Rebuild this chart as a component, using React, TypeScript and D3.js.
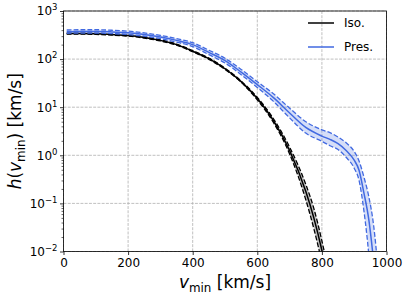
import React, { useEffect, useRef } from "react";
import * as d3 from "d3";

// v_min grid [km/s] and h(v_min) [km/s]
const isoV = [10, 50, 100, 150, 200, 250, 300, 350, 400, 450, 500, 550, 600, 650, 700, 750, 775, 800, 825];
const isoMid = [339, 339, 335, 324, 309, 282, 245, 200, 146, 102, 63, 34, 15.1, 5.25, 1.26, 0.178, 0.05, 0.0105, 0.0016];
const isoHigh = [348, 348, 344, 333, 318, 290, 252, 206, 150, 105, 65, 35, 16, 5.75, 1.48, 0.25, 0.079, 0.0166, 0.0027];
const isoLow = [330, 330, 326, 315, 300, 274, 238, 194, 142, 99, 61, 33, 14.2, 4.8, 1.07, 0.12, 0.03, 0.0059, 0.0009];

const presV = [10, 50, 100, 150, 200, 250, 300, 350, 400, 450, 500, 550, 600, 650, 700, 750, 800, 825, 850, 875, 900, 915, 930, 945, 960, 975];
const presMid = [372, 376, 376, 367, 351, 324, 288, 245, 200, 138, 93, 53.7, 29.5, 15.8, 7.6, 3.8, 2.51, 2.14, 1.74, 1.26, 0.79, 0.49, 0.166, 0.047, 0.0063, 0.0005];
const presHigh = [403, 408, 408, 398, 381, 351, 312, 267, 219, 153, 104, 61, 33.9, 19, 9.55, 5, 3.39, 2.95, 2.4, 1.82, 1.2, 0.76, 0.355, 0.141, 0.0355, 0.0035];
const presLow = [343, 347, 347, 339, 324, 299, 266, 225, 182, 124, 83, 47.4, 25.7, 13.2, 6, 2.9, 1.95, 1.58, 1.32, 0.91, 0.54, 0.3, 0.071, 0.0089, 0.0005, 0.0001];

const xTicks = [0, 200, 400, 600, 800, 1000];
const yTicks = [1e-2, 1e-1, 1e0, 1e1, 1e2, 1e3];
const yTickExps = ["\u22122", "\u22121", "0", "1", "2", "3"];
const legendLabels = ["Iso.", "Pres."];

const W = 409;
const H = 298;
const FONT = "DejaVu Sans, sans-serif";
const BLUE = "#4169e1";

function App() {
  const ref = useRef(null);

  useEffect(() => {
    const margin = { top: 11, right: 22.5, bottom: 46.5, left: 63.5 };
    const width = W - margin.left - margin.right;
    const height = H - margin.top - margin.bottom;

    const svg = d3.select(ref.current);
    svg.selectAll("*").remove();

    const x = d3.scaleLinear().domain([0, 1000]).range([0, width]);
    const y = d3.scaleLog().domain([1e-2, 1e3]).range([height, 0]);

    svg
      .append("defs")
      .append("clipPath")
      .attr("id", "plotclip")
      .append("rect")
      .attr("width", width)
      .attr("height", height);

    const g = svg.append("g").attr("transform", `translate(${margin.left},${margin.top})`);

    // grid
    const grid = g.append("g").attr("stroke", "#b0b0b0").attr("stroke-width", 0.8).attr("stroke-dasharray", "2.96,1.28");
    grid
      .selectAll(".gx")
      .data(xTicks)
      .join("line")
      .attr("x1", (d) => x(d))
      .attr("x2", (d) => x(d))
      .attr("y1", 0)
      .attr("y2", height);
    grid
      .selectAll(".gy")
      .data(yTicks)
      .join("line")
      .attr("x1", 0)
      .attr("x2", width)
      .attr("y1", (d) => y(d))
      .attr("y2", (d) => y(d));

    const plot = g.append("g").attr("clip-path", "url(#plotclip)");

    const series = [
      { v: isoV, mid: isoMid, lo: isoLow, hi: isoHigh, color: "#000000", fill: "#808080", op: 0.5 },
      { v: presV, mid: presMid, lo: presLow, hi: presHigh, color: BLUE, fill: BLUE, op: 0.22 },
    ];

    series.forEach((s) => {
      const idx = d3.range(s.v.length);
      const area = d3
        .area()
        .x((i) => x(s.v[i]))
        .y0((i) => y(s.lo[i]))
        .y1((i) => y(s.hi[i]))
        .curve(d3.curveMonotoneX);
      plot.append("path").attr("d", area(idx)).attr("fill", s.fill).attr("fill-opacity", s.op);

      const line = (arr) =>
        d3
          .line()
          .x((i) => x(s.v[i]))
          .y((i) => y(arr[i]))
          .curve(d3.curveMonotoneX)(idx);

      [s.lo, s.hi].forEach((arr) => {
        plot
          .append("path")
          .attr("d", line(arr))
          .attr("fill", "none")
          .attr("stroke", s.color)
          .attr("stroke-width", 1.3)
          .attr("stroke-dasharray", "4.8,2.1");
      });
      plot
        .append("path")
        .attr("d", line(s.mid))
        .attr("fill", "none")
        .attr("stroke", s.color)
        .attr("stroke-width", 1.5);
    });

    // axes
    const xAxis = g
      .append("g")
      .attr("transform", `translate(0,${height})`)
      .call(d3.axisBottom(x).tickValues(xTicks).tickFormat(d3.format("d")).tickSize(3.5).tickPadding(3.5));
    xAxis.select(".domain").remove();
    xAxis.selectAll("text").attr("font-family", FONT).attr("font-size", 12).attr("fill", "#000");
    xAxis.selectAll("line").attr("stroke-width", 0.8);

    const minorTicks = [];
    for (let e = -2; e < 3; e++) for (let m = 2; m < 10; m++) minorTicks.push(m * Math.pow(10, e));
    const yMinor = g.append("g").call(d3.axisLeft(y).tickValues(minorTicks).tickFormat(() => "").tickSize(2));
    yMinor.select(".domain").remove();
    yMinor.selectAll("line").attr("stroke-width", 0.6);

    const yAxis = g.append("g").call(d3.axisLeft(y).tickValues(yTicks).tickFormat(() => "").tickSize(3.5));
    yAxis.select(".domain").remove();
    yAxis.selectAll("line").attr("stroke-width", 0.8);
    yAxis
      .selectAll(".tick")
      .append("text")
      .attr("x", -6)
      .attr("dy", "0.32em")
      .attr("text-anchor", "end")
      .attr("font-family", FONT)
      .attr("font-size", 12)
      .attr("fill", "#000")
      .each(function (_, i) {
        const t = d3.select(this);
        t.append("tspan").text("10");
        t.append("tspan").attr("dy", -5).attr("font-size", 8.5).text(yTickExps[i]);
      });

    g.append("rect")
      .attr("width", width)
      .attr("height", height)
      .attr("fill", "none")
      .attr("stroke", "#000")
      .attr("stroke-width", 0.8);

    // axis labels with math parts
    const addParts = (text, size, parts) => {
      parts.forEach((p) => {
        const ts = text.append("tspan").text(p.t);
        if (p.it) ts.attr("font-style", "italic");
        if (p.sub) ts.attr("font-size", size * 0.7).attr("dy", size * 0.22);
        if (p.up) ts.attr("dy", -size * 0.22);
      });
    };

    const xl = svg
      .append("text")
      .attr("x", margin.left + width / 2)
      .attr("y", 288)
      .attr("text-anchor", "middle")
      .attr("font-family", FONT)
      .attr("font-size", 17)
      .attr("fill", "#000");
    addParts(xl, 17, [{ t: "v", it: true }, { t: "min", sub: true }, { t: "\u00a0[km/s]", up: true }]);

    const yl = svg
      .append("text")
      .attr("transform", `translate(21,${margin.top + height / 2}) rotate(-90)`)
      .attr("text-anchor", "middle")
      .attr("font-family", FONT)
      .attr("font-size", 17)
      .attr("fill", "#000");
    addParts(yl, 17, [
      { t: "h", it: true },
      { t: "(" },
      { t: "v", it: true },
      { t: "min", sub: true },
      { t: ")\u00a0[km/s]", up: true },
    ]);

    // legend
    const leg = svg.append("g");
    legendLabels.forEach((lab, i) => {
      const yy = 23 + i * 24;
      leg
        .append("line")
        .attr("x1", 308)
        .attr("x2", 334)
        .attr("y1", yy)
        .attr("y2", yy)
        .attr("stroke", series[i].color)
        .attr("stroke-width", 1.5);
      leg
        .append("text")
        .attr("x", 344)
        .attr("y", yy)
        .attr("dy", "0.35em")
        .attr("font-family", FONT)
        .attr("font-size", 12)
        .attr("fill", "#000")
        .text(lab);
    });
  }, []);

  return <svg ref={ref} width={W} height={H} style={{ position: "absolute", left: 0, top: 0 }} />;
}

export default App;
